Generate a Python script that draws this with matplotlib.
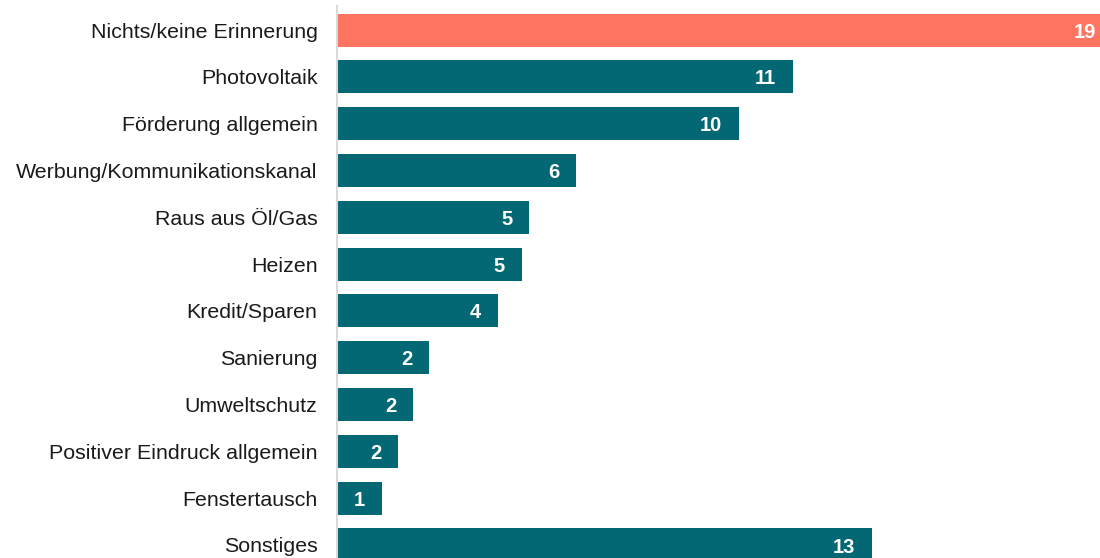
import matplotlib.pyplot as plt

plt.rcParams['font.family'] = ['Liberation Sans', 'DejaVu Sans']

categories = ['Nichts/keine Erinnerung', 'Photovoltaik', 'Förderung allgemein',
              'Werbung/Kommunikationskanal', 'Raus aus Öl/Gas', 'Heizen', 'Kredit/Sparen',
              'Sanierung', 'Umweltschutz', 'Positiver Eindruck allgemein', 'Fenstertausch',
              'Sonstiges']
values = [19.3, 11.35, 10.0, 5.95, 4.78, 4.6, 4.0, 2.29, 1.89, 1.52, 1.12, 13.3]
colors = ['#FF7461'] + ['#036873'] * 11

fig = plt.figure(figsize=(11, 5.58), dpi=100)
ax = fig.add_axes([337 / 1100, 0, 1 - 337 / 1100, 552 / 558])

ypos = list(range(len(categories)))
ax.barh(ypos, values, height=0.705, color=colors)

for y, v in zip(ypos, values):
    ax.annotate('%.0f' % v, xy=(v, y), xytext=(-12.2, -1.5), textcoords='offset points',
                ha='right', va='center', color='white', fontsize=14.5, fontweight='bold',
                annotation_clip=False)

ax.set_xlim(0, 18.98)
ax.set_ylim(11.278, -0.513)
ax.set_yticks(ypos)
ax.set_yticklabels(categories, fontsize=15.4, color='#1a1a1a')
ax.tick_params(axis='y', length=0, pad=14)
ax.set_xticks([])
for side in ['top', 'right', 'bottom']:
    ax.spines[side].set_visible(False)
ax.spines['left'].set_color('#d9d9d9')
ax.spines['left'].set_linewidth(1.5)

fig.savefig('out.png', dpi=100)
